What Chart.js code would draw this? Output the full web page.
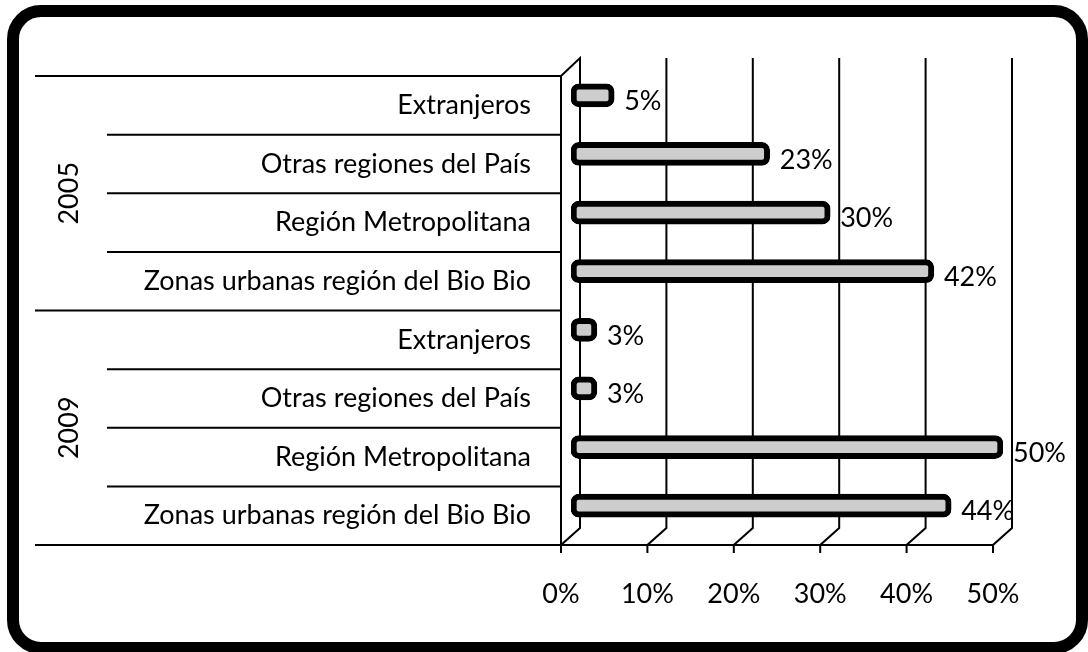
<!DOCTYPE html>
<html lang="es">
<head>
  <meta charset="UTF-8">
  <title>Procedencia 2005 - 2009</title>
  <script src="https://cdn.jsdelivr.net/npm/chart.js"></script>
  <style>
    html, body {
      margin: 0;
      padding: 0;
      background: #fff;
    }
    body {
      width: 1088px;
      height: 652px;
      overflow: hidden;
      position: relative;
    }
    .frame {
      position: absolute;
      left: 7px;
      top: 5px;
      width: 1081px;
      height: 649px;
      box-sizing: border-box;
      border: 12px solid #000;
      border-radius: 34px;
    }
    .wrap {
      position: absolute;
      left: 0;
      top: 0;
      width: 1088px;
      height: 652px;
    }
  </style>
</head>
<body>
  <div class="frame"></div>
  <div class="wrap"><canvas id="chart"></canvas></div>

  <script>
    // Data
    const years = ['2005', '2009'];
    const categories = ['Extranjeros', 'Otras regiones del País', 'Región Metropolitana', 'Zonas urbanas región del Bio Bio'];
    const values2005 = [5, 23, 30, 42];
    const values2009 = [3, 3, 50, 44];
    const xTicks = [0, 10, 20, 30, 40, 50];

    const FONT = 'Lato, "Liberation Sans", sans-serif';
    const FONT_SIZE = 27;
    const INK = '#000';
    const DEPTH_X = 10;   // bars sit half way into the 3D depth
    const DEPTH_Y = 10;

    const labels = years.flatMap(() => categories);
    const values = values2005.concat(values2009);

    // Draws the 3D walls, gridlines and the row separators
    const framePlugin = {
      id: 'frame3d',
      beforeDatasetsDraw(chart) {
        const ctx = chart.ctx;
        const x = chart.scales.x;
        const y = chart.scales.y;
        const step = y.getPixelForValue(1) - y.getPixelForValue(0);
        const rowTop = y.getPixelForValue(0) - step / 2 + DEPTH_Y;
        const floorY = rowTop + step * labels.length;
        const front = v => x.getPixelForValue(v) - DEPTH_X;
        const back = v => x.getPixelForValue(v) + DEPTH_X - 1;
        const backFloor = floorY - 17;
        const wallTop = rowTop - 18;

        ctx.save();
        ctx.strokeStyle = INK;
        ctx.lineWidth = 2;

        // row separators in the label area
        for (let i = 0; i <= labels.length; i++) {
          const yy = rowTop + i * step;
          const full = i % categories.length === 0;
          ctx.beginPath();
          ctx.moveTo(full ? 35 : 107, yy);
          ctx.lineTo(front(0), yy);
          ctx.stroke();
        }

        // left wall
        ctx.beginPath();
        ctx.moveTo(front(0), floorY);
        ctx.lineTo(front(0), rowTop);
        ctx.lineTo(back(0), wallTop);
        ctx.lineTo(back(0), backFloor);
        ctx.lineTo(front(0), floorY);
        ctx.stroke();

        // floor front edge
        ctx.beginPath();
        ctx.moveTo(front(0), floorY);
        ctx.lineTo(front(xTicks[xTicks.length - 1]), floorY);
        ctx.stroke();

        // gridlines on back wall, slanted across the floor, tick marks
        xTicks.forEach(v => {
          ctx.beginPath();
          if (v > 0) {
            ctx.moveTo(back(v), wallTop);
            ctx.lineTo(back(v), backFloor);
            ctx.lineTo(front(v), floorY);
          } else {
            ctx.moveTo(front(v), floorY);
          }
          ctx.lineTo(front(v), floorY + 8);
          ctx.stroke();
        });

        // year labels
        ctx.fillStyle = INK;
        ctx.font = FONT_SIZE + 'px ' + FONT;
        ctx.textAlign = 'center';
        ctx.textBaseline = 'middle';
        years.forEach((yr, g) => {
          const cy = rowTop + (g + 0.5) * categories.length * step;
          ctx.save();
          ctx.translate(69, cy);
          ctx.rotate(-Math.PI / 2);
          ctx.fillText(yr, 0, 0);
          ctx.restore();
        });
        ctx.restore();
      }
    };

    // Value labels next to the bars
    const valueLabels = {
      id: 'valueLabels',
      afterDatasetsDraw(chart) {
        const ctx = chart.ctx;
        const meta = chart.getDatasetMeta(0);
        ctx.save();
        ctx.fillStyle = INK;
        ctx.font = FONT_SIZE + 'px ' + FONT;
        ctx.textAlign = 'left';
        ctx.textBaseline = 'middle';
        meta.data.forEach((bar, i) => {
          ctx.fillText(values[i] + '%', bar.x + 10, bar.y + 6);
        });
        ctx.restore();
      }
    };

    new Chart(document.getElementById('chart'), {
      type: 'bar',
      data: {
        labels: labels,
        datasets: [{
          data: values,
          backgroundColor: '#cdcdcd',
          borderColor: '#000',
          borderWidth: 6,
          borderRadius: 8,
          borderSkipped: false,
          barThickness: 23
        }]
      },
      options: {
        indexAxis: 'y',
        responsive: true,
        maintainAspectRatio: false,
        animation: false,
        layout: {
          padding: { left: 0, right: 85, top: 66, bottom: 0 }
        },
        plugins: {
          legend: { display: false },
          tooltip: { enabled: false }
        },
        scales: {
          x: {
            min: 0,
            max: 50,
            grid: { display: false },
            border: { display: false },
            afterFit(scale) { scale.height = 117; },
            ticks: {
              stepSize: 10,
              padding: 35,
              labelOffset: -DEPTH_X,
              color: INK,
              font: { family: FONT, size: FONT_SIZE },
              callback: v => v + '%'
            }
          },
          y: {
            grid: { display: false },
            border: { display: false },
            afterFit(scale) { scale.width = 571; },
            ticks: {
              padding: 32,
              labelOffset: DEPTH_Y,
              color: INK,
              font: { family: FONT, size: FONT_SIZE }
            }
          }
        }
      },
      plugins: [framePlugin, valueLabels]
    });
  </script>
</body>
</html>
